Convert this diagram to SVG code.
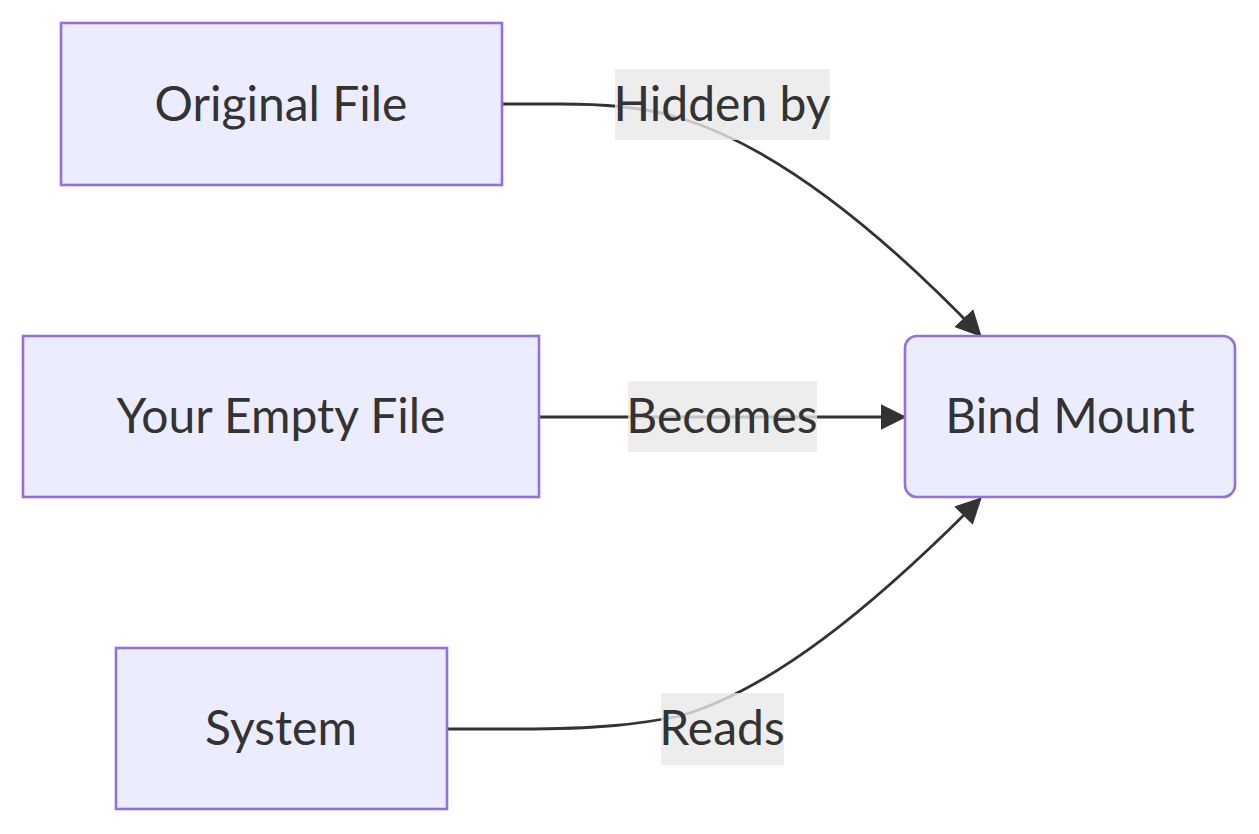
<svg xmlns="http://www.w3.org/2000/svg" width="1259" height="834" viewBox="0 0 1259 834">
<defs>
<style>
.node rect{fill:#ECECFF;stroke:#9370DB;stroke-width:2.6}
.node text,.lbl text{font-family:Lato,"DejaVu Sans",sans-serif;font-size:48px;fill:#333;text-anchor:middle;dominant-baseline:central}
.edge{fill:none;stroke:#333;stroke-width:2.8}
.lbl rect{fill:rgba(232,232,232,0.8)}
</style>
<marker id="arr" markerUnits="userSpaceOnUse" markerWidth="26" markerHeight="26" viewBox="0 0 10 10" refX="9" refY="5" orient="auto">
<path d="M0,0 L10,5 L0,10 z" fill="#333"/>
</marker>
</defs>
<rect width="1259" height="834" fill="#fff"/>
<g id="connectors">
<path class="edge" d="M502,104 L560,104 C600,104 640,106 680,118 C760,142 860,210 980,335" marker-end="url(#arr)"/>
<path class="edge" d="M539,417 L904,417" marker-end="url(#arr)"/>
<path class="edge" d="M447,729 L520,729 C600,729 640,724 680,716 C770,690 870,610 980,499" marker-end="url(#arr)"/>
</g>
<g id="node-original" class="node">
<rect x="61" y="23" width="441" height="162"/>
<text x="281" y="102">Original File</text>
</g>
<g id="node-empty" class="node">
<rect x="23" y="336" width="516" height="161"/>
<text x="281" y="414">Your Empty File</text>
</g>
<g id="node-system" class="node">
<rect x="116" y="648" width="331" height="161"/>
<text x="281" y="726">System</text>
</g>
<g id="node-bind" class="node">
<rect x="905" y="336" width="330" height="161" rx="12" ry="12"/>
<text x="1070" y="414">Bind Mount</text>
</g>
<g id="label-hidden" class="lbl">
<rect x="615" y="69" width="215" height="71"/>
<text x="722" y="102">Hidden by</text>
</g>
<g id="label-becomes" class="lbl">
<rect x="628" y="381" width="189" height="71"/>
<text x="722" y="414">Becomes</text>
</g>
<g id="label-reads" class="lbl">
<rect x="661" y="693" width="123" height="72"/>
<text x="722" y="726">Reads</text>
</g>
</svg>
